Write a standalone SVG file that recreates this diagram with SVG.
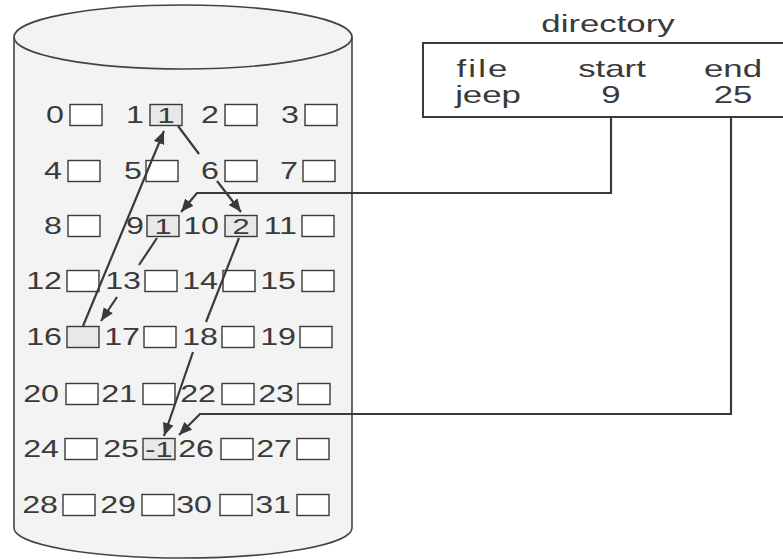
<svg xmlns="http://www.w3.org/2000/svg" width="783" height="559" viewBox="0 0 783 559">
  <defs>
    <style>
      .disk { stroke: #444444; stroke-width: 1.6; fill: #f3f3f3; }
      .cell { stroke: #3a3a3a; stroke-width: 1.4; fill: #ffffff; }
      .cell.used { fill: #e8e8e8; }
      .num { font-family: "Liberation Sans", Arial, sans-serif; font-size: 23px; fill: #3a3a3a; text-anchor: end; }
      .val { font-family: "Liberation Sans", Arial, sans-serif; font-size: 22px; fill: #3a3a3a; text-anchor: middle; }
      .dir { font-family: "Liberation Sans", Arial, sans-serif; font-size: 24px; fill: #3a3a3a; text-anchor: middle; }
      .link { stroke: #3a3a3a; stroke-width: 2.2; fill: none; }
    </style>
    <marker id="head" markerUnits="userSpaceOnUse" markerWidth="14" markerHeight="11" refX="13" refY="5.5" orient="auto">
      <path d="M0,0 L13,5.5 L0,11 z" fill="#3a3a3a"/>
    </marker>
  </defs>

  <rect x="0" y="0" width="783" height="559" fill="#ffffff"/>

  <!-- disk cylinder -->
  <g id="disk">
    <path class="disk" d="M14,37 V528 A169,30 0 0 0 352,528 V37"/>
    <ellipse class="disk" cx="183" cy="37" rx="169" ry="32" fill="#f6f6f6"/>
  </g>

  <!-- disk blocks 0..31 -->
  <g id="blocks">
    <g id="block-0"><rect class="cell" x="70" y="104.5" width="32" height="21"/><text class="num" transform="translate(64 123) scale(1.4 1)">0</text></g>
    <g id="block-1"><rect class="cell used" x="150" y="104.5" width="32" height="21"/><text class="num" transform="translate(144 123) scale(1.4 1)">1</text><text class="val" transform="translate(166 123) scale(1.4 1)">1</text></g>
    <g id="block-2"><rect class="cell" x="225" y="104.5" width="32" height="21"/><text class="num" transform="translate(219 123) scale(1.4 1)">2</text></g>
    <g id="block-3"><rect class="cell" x="305" y="104.5" width="32" height="21"/><text class="num" transform="translate(299 123) scale(1.4 1)">3</text></g>

    <g id="block-4"><rect class="cell" x="68" y="160.5" width="32" height="21"/><text class="num" transform="translate(62 179) scale(1.4 1)">4</text></g>
    <g id="block-5"><rect class="cell" x="146" y="160.5" width="32" height="21"/><text class="num" transform="translate(142 179) scale(1.4 1)">5</text></g>
    <g id="block-6"><rect class="cell" x="225" y="160.5" width="32" height="21"/><text class="num" transform="translate(219 179) scale(1.4 1)">6</text></g>
    <g id="block-7"><rect class="cell" x="303" y="160.5" width="32" height="21"/><text class="num" transform="translate(298 179) scale(1.4 1)">7</text></g>

    <g id="block-8"><rect class="cell" x="68" y="215.5" width="32" height="21"/><text class="num" transform="translate(62 234) scale(1.4 1)">8</text></g>
    <g id="block-9"><rect class="cell used" x="147" y="215.5" width="32" height="21"/><text class="num" transform="translate(144 234) scale(1.4 1)">9</text><text class="val" transform="translate(163 234) scale(1.4 1)">1</text></g>
    <g id="block-10"><rect class="cell used" x="225" y="215.5" width="32" height="21"/><text class="num" transform="translate(219 234) scale(1.4 1)">10</text><text class="val" transform="translate(241 234) scale(1.4 1)">2</text></g>
    <g id="block-11"><rect class="cell" x="302" y="215.5" width="32" height="21"/><text class="num" transform="translate(297 234) scale(1.4 1)">11</text></g>

    <g id="block-12"><rect class="cell" x="67" y="270.5" width="32" height="21"/><text class="num" transform="translate(62 289) scale(1.4 1)">12</text></g>
    <g id="block-13"><rect class="cell" x="145" y="270.5" width="32" height="21"/><text class="num" transform="translate(141 289) scale(1.4 1)">13</text></g>
    <g id="block-14"><rect class="cell" x="223" y="270.5" width="32" height="21"/><text class="num" transform="translate(218 289) scale(1.4 1)">14</text></g>
    <g id="block-15"><rect class="cell" x="302" y="270.5" width="32" height="21"/><text class="num" transform="translate(296 289) scale(1.4 1)">15</text></g>

    <g id="block-16"><rect class="cell used" x="67" y="326.5" width="32" height="21"/><text class="num" transform="translate(62 345) scale(1.4 1)">16</text></g>
    <g id="block-17"><rect class="cell" x="144" y="326.5" width="32" height="21"/><text class="num" transform="translate(140 345) scale(1.4 1)">17</text></g>
    <g id="block-18"><rect class="cell" x="222" y="326.5" width="32" height="21"/><text class="num" transform="translate(218 345) scale(1.4 1)">18</text></g>
    <g id="block-19"><rect class="cell" x="300" y="326.5" width="32" height="21"/><text class="num" transform="translate(296 345) scale(1.4 1)">19</text></g>

    <g id="block-20"><rect class="cell" x="66" y="383.5" width="32" height="21"/><text class="num" transform="translate(59 402) scale(1.4 1)">20</text></g>
    <g id="block-21"><rect class="cell" x="143" y="383.5" width="32" height="21"/><text class="num" transform="translate(137 402) scale(1.4 1)">21</text></g>
    <g id="block-22"><rect class="cell" x="222" y="383.5" width="32" height="21"/><text class="num" transform="translate(216 402) scale(1.4 1)">22</text></g>
    <g id="block-23"><rect class="cell" x="298" y="383.5" width="32" height="21"/><text class="num" transform="translate(294 402) scale(1.4 1)">23</text></g>

    <g id="block-24"><rect class="cell" x="65" y="438.5" width="32" height="21"/><text class="num" transform="translate(59 457) scale(1.4 1)">24</text></g>
    <g id="block-25"><rect class="cell used" x="143" y="438.5" width="32" height="21"/><text class="num" transform="translate(139 457) scale(1.4 1)">25</text><text class="val" transform="translate(159 457) scale(1.4 1)">-1</text></g>
    <g id="block-26"><rect class="cell" x="221" y="438.5" width="32" height="21"/><text class="num" transform="translate(214 457) scale(1.4 1)">26</text></g>
    <g id="block-27"><rect class="cell" x="297" y="438.5" width="32" height="21"/><text class="num" transform="translate(292 457) scale(1.4 1)">27</text></g>

    <g id="block-28"><rect class="cell" x="63" y="494.5" width="32" height="21"/><text class="num" transform="translate(58 513) scale(1.4 1)">28</text></g>
    <g id="block-29"><rect class="cell" x="142" y="494.5" width="32" height="21"/><text class="num" transform="translate(136 513) scale(1.4 1)">29</text></g>
    <g id="block-30"><rect class="cell" x="220" y="494.5" width="32" height="21"/><text class="num" transform="translate(212 513) scale(1.4 1)">30</text></g>
    <g id="block-31"><rect class="cell" x="297" y="494.5" width="32" height="21"/><text class="num" transform="translate(291 513) scale(1.4 1)">31</text></g>
  </g>

  <!-- directory entry -->
  <g id="directory">
    <text class="dir" transform="translate(608 32) scale(1.45 1)">directory</text>
    <rect x="423" y="43" width="400" height="74" fill="none" stroke="#3a3a3a" stroke-width="2"/>
    <text class="dir" transform="translate(483 77) scale(1.45 1)" letter-spacing="1.5">file</text>
    <text class="dir" transform="translate(612 77) scale(1.45 1)">start</text>
    <text class="dir" transform="translate(733 77) scale(1.45 1)">end</text>
    <text class="dir" transform="translate(488 103) scale(1.45 1)">jeep</text>
    <text class="dir" transform="translate(611 103) scale(1.45 1)">9</text>
    <text class="dir" transform="translate(733 103) scale(1.45 1)">25</text>
  </g>

  <!-- block chain pointers -->
  <g id="links">
    <path class="link" d="M611,117 V193 H197 L181,212" marker-end="url(#head)"/>
    <path class="link" d="M731,117 V414 H200 L179,435" marker-end="url(#head)"/>
    <path class="link" d="M157,238 L139,265"/>
    <path class="link" d="M117,297 L101,321" marker-end="url(#head)"/>
    <path class="link" d="M83,326 L164,131" marker-end="url(#head)"/>
    <path class="link" d="M178,126 L199,154"/>
    <path class="link" d="M217,181 L241,212" marker-end="url(#head)"/>
    <path class="link" d="M239,238 L206,322"/>
    <path class="link" d="M193,352 L164,436" marker-end="url(#head)"/>
  </g>
</svg>
